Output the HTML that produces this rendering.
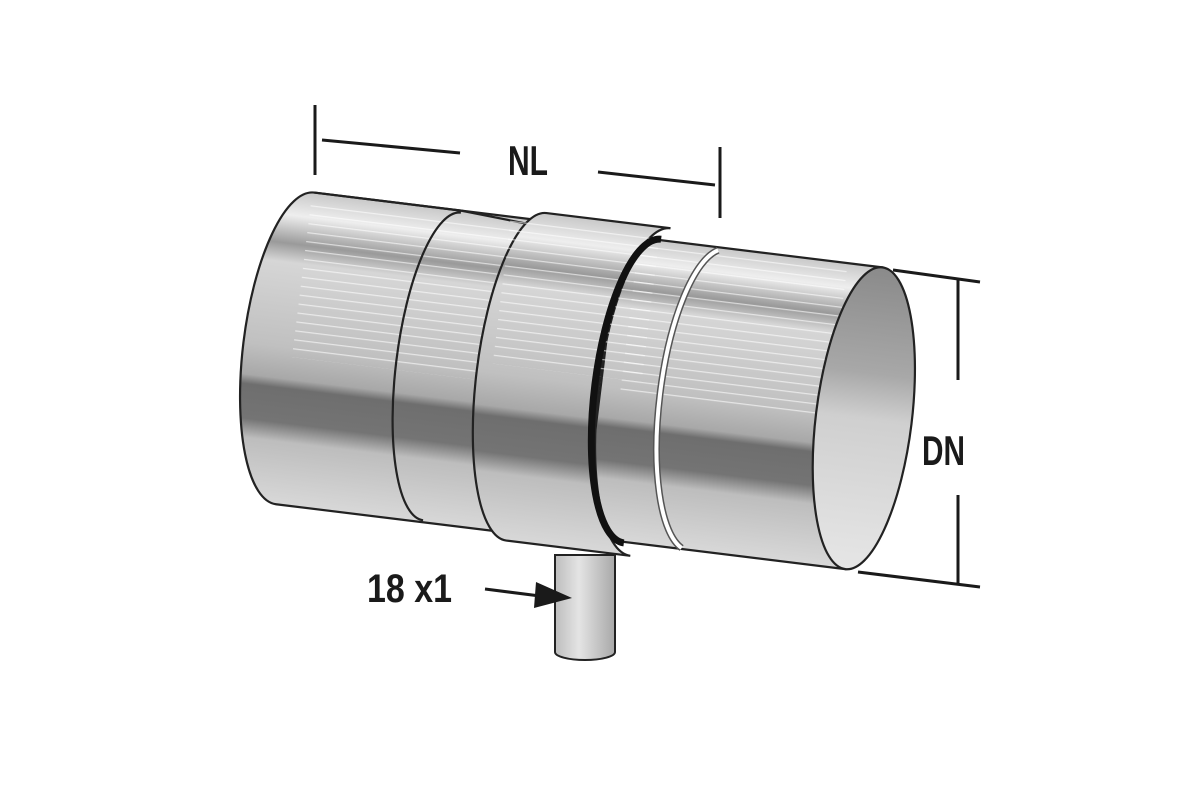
<!DOCTYPE html>
<html><head><meta charset="utf-8"><style>
html,body{margin:0;padding:0;background:#fff}
svg{display:block}
text{font-family:"Liberation Sans Narrow","Liberation Sans",sans-serif;font-weight:bold;fill:#1a1a1a}
</style></head><body>
<svg width="1181" height="788" viewBox="0 0 1181 788" xmlns="http://www.w3.org/2000/svg">
<defs>
<linearGradient id="g" x1="0" y1="0" x2="0" y2="1">
<stop offset="0" stop-color="#c8c8c8"/>
<stop offset="0.08" stop-color="#eeeeee"/>
<stop offset="0.17" stop-color="#9a9a9a"/>
<stop offset="0.23" stop-color="#d6d6d6"/>
<stop offset="0.5" stop-color="#c0c0c0"/>
<stop offset="0.6" stop-color="#a8a8a8"/>
<stop offset="0.63" stop-color="#6e6e6e"/>
<stop offset="0.74" stop-color="#747474"/>
<stop offset="0.8" stop-color="#bdbdbd"/>
<stop offset="1" stop-color="#d8d8d8"/>
</linearGradient>
<linearGradient id="gi" x1="0" y1="0" x2="0" y2="1">
<stop offset="0" stop-color="#8a8a8a"/>
<stop offset="0.35" stop-color="#a8a8a8"/>
<stop offset="0.5" stop-color="#cfcfcf"/>
<stop offset="1" stop-color="#e6e6e6"/>
</linearGradient>
<linearGradient id="gs" x1="0" y1="0" x2="1" y2="0">
<stop offset="0" stop-color="#bdbdbd"/>
<stop offset="0.4" stop-color="#e4e4e4"/>
<stop offset="1" stop-color="#a8a8a8"/>
</linearGradient>
<pattern id="lines" width="10" height="9" patternUnits="userSpaceOnUse">
<rect y="3" width="10" height="1.2" fill="#ffffff" opacity="0.6"/>
</pattern>
</defs>

<path d="M555,555 L555,652 A30,8 0 0 0 615,652 L615,555 Z" fill="url(#gs)" stroke="#222" stroke-width="2"/>

<g transform="rotate(7 560 390)" stroke="#222" stroke-width="2.2">
<rect x="600" y="229" width="265" height="304" fill="url(#g)"/>
<rect x="620" y="235" width="210" height="150" fill="url(#lines)" stroke="none"/>
<path d="M700,232 A48,152 0 0 0 700,532" fill="none" stroke="#555" stroke-width="7"/>
<path d="M700,232 A48,152 0 0 0 700,532" fill="none" stroke="#fff" stroke-width="4"/>
<ellipse cx="865" cy="381" rx="48" ry="152" fill="url(#gi)"/>

<path d="M292,224 A52,157 0 0 0 292,538 L520,538 L520,224 Z" fill="url(#g)"/>
<rect x="290" y="230" width="230" height="160" fill="url(#lines)" stroke="none"/>
<path d="M440,226 A46,155 0 0 0 440,536" fill="none"/>
<path d="M292,224 L440,224 L520,230" fill="none"/>
<path d="M525,216 L650,216 A52,165 0 0 0 650,546 L525,546 A50,165 0 0 1 525,216 Z" fill="url(#g)"/>
<rect x="490" y="222" width="150" height="150" fill="url(#lines)" stroke="none"/>
<path d="M642,228 A48,153 0 0 0 642,534" fill="none" stroke="#111" stroke-width="7"/>
</g>

<g stroke="#1a1a1a" stroke-width="3" fill="none">
<line x1="315" y1="105" x2="315" y2="175"/>
<line x1="322" y1="140" x2="460" y2="153"/>
<line x1="598" y1="172" x2="715" y2="185"/>
<line x1="720" y1="147" x2="720" y2="218"/>
<line x1="893" y1="270" x2="980" y2="282"/>
<line x1="858" y1="572" x2="980" y2="587"/>
<line x1="958" y1="280" x2="958" y2="380"/>
<line x1="958" y1="495" x2="958" y2="585"/>
<line x1="485" y1="589" x2="540" y2="596"/>
</g>
<polygon points="572,598 536,582 534,608" fill="#1a1a1a"/>
<text x="508" y="175" font-size="42" textLength="40" lengthAdjust="spacingAndGlyphs">NL</text>
<text x="922" y="465" font-size="42" textLength="43" lengthAdjust="spacingAndGlyphs">DN</text>
<text x="367" y="602" font-size="40" textLength="85" lengthAdjust="spacingAndGlyphs">18 x1</text>
</svg>
</body></html>
